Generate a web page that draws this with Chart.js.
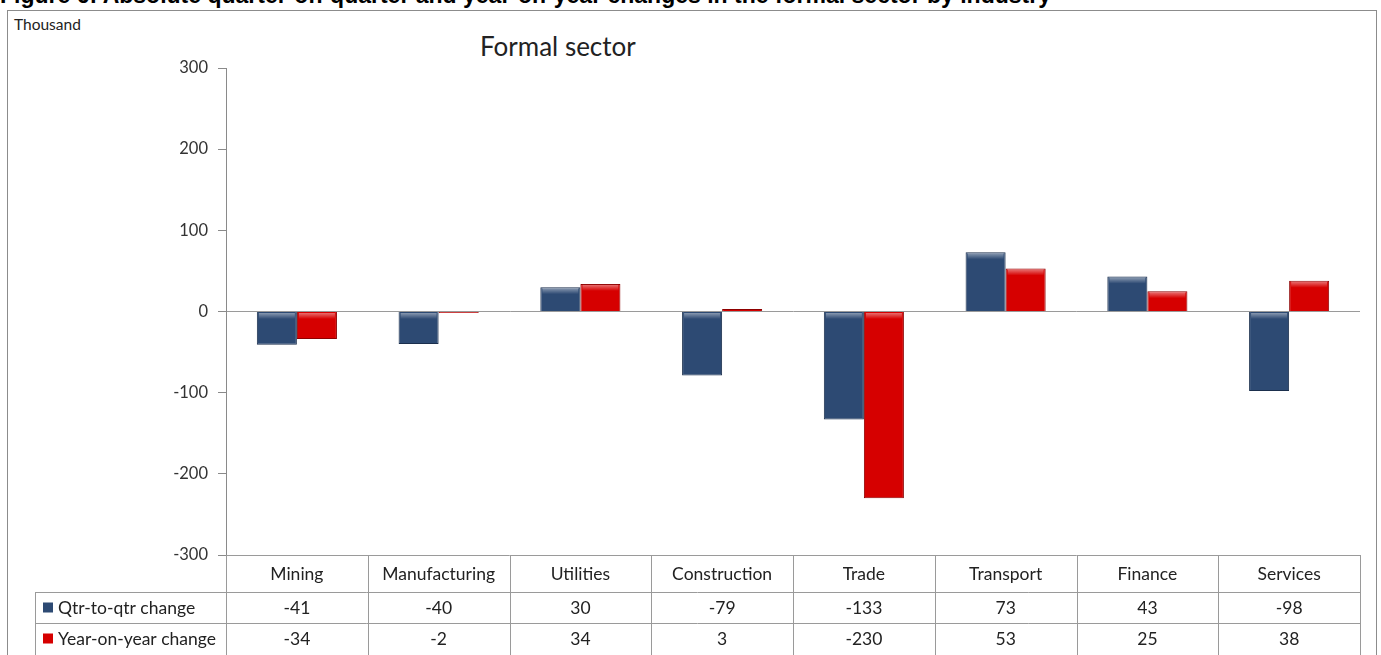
<!DOCTYPE html>
<html>
<head>
<meta charset="utf-8">
<script src="https://cdn.jsdelivr.net/npm/chart.js@4.4.1/dist/chart.umd.min.js"></script>
<style>
  html, body { margin: 0; padding: 0; background: #fff; overflow: hidden; }
  #wrap { position: relative; width: 1381px; height: 655px; }
  #caption { position: absolute; left: 0; top: -18px; font: bold 23px "Liberation Sans", Arial, sans-serif; color: #000; white-space: nowrap; }
  #frame { position: absolute; left: 7px; top: 10px; width: 1370px; height: 660px; border: 1px solid #8c8c8c; box-sizing: border-box; background: #fff; }
  #unit { position: absolute; left: 14px; top: 15px; font: 15.5px Lato, sans-serif; color: #222; }
  #title { position: absolute; left: 480px; top: 30px; font: 26px Lato, sans-serif; color: #222; }
  canvas { position: absolute; left: 0; top: 0; }
</style>
</head>
<body>
<div id="wrap">
  <div id="caption">Figure 6: Absolute quarter-on-quarter and year-on-year changes in the formal sector by industry</div>
  <div id="frame"></div>
  <div id="unit">Thousand</div>
  <div id="title">Formal sector</div>
  <canvas id="grafico" width="1381" height="655"></canvas>
</div>
<script>
const setores = ["Mining", "Manufacturing", "Utilities", "Construction", "Trade", "Transport", "Finance", "Services"]
const qtrChange = [-41, -40, 30, -79, -133, 73, 43, -98]
const yoyChange = [-34, -2, 34, 3, -230, 53, 25, 38]
const serieNomes = ["Qtr-to-qtr change", "Year-on-year change"]
const yTicks = [-300, -200, -100, 0, 100, 200, 300]

const azul = '#2d4a73'
const vermelho = '#d60000'
const fonteTabela = '17.5px Lato, sans-serif'

// light bevel on the top edge of every bar
const bevelPlugin = {
  id: 'bevel',
  afterDatasetsDraw(chart) {
    const ctx = chart.ctx
    chart.data.datasets.forEach(function (ds, i) {
      chart.getDatasetMeta(i).data.forEach(function (bar) {
        const top = Math.min(bar.y, bar.base)
        const h = Math.abs(bar.base - bar.y)
        if (h < 3) return
        const g = ctx.createLinearGradient(0, top, 0, top + 7)
        g.addColorStop(0, 'rgba(255,255,255,0.5)')
        g.addColorStop(1, 'rgba(255,255,255,0)')
        ctx.save()
        ctx.fillStyle = g
        ctx.fillRect(bar.x - bar.width / 2 + 2, top + 1, bar.width - 4, Math.min(7, h - 2))
        ctx.restore()
      })
    })
  }
}

// data table under the plot
const tabelaPlugin = {
  id: 'tabela',
  afterDraw(chart) {
    const ctx = chart.ctx
    const area = chart.chartArea
    const xs = chart.scales.x
    const n = setores.length
    const colW = (area.right - area.left) / n
    const topo = area.bottom
    const linha1 = topo + 37
    const linha2 = linha1 + 31
    const fim = chart.height
    const labelLeft = 35

    ctx.save()
    ctx.strokeStyle = '#9a9a9a'
    ctx.lineWidth = 1
    ctx.beginPath()
    ctx.moveTo(area.left, topo + 0.5); ctx.lineTo(area.right, topo + 0.5)
    ctx.moveTo(labelLeft, linha1 + 0.5); ctx.lineTo(area.right, linha1 + 0.5)
    ctx.moveTo(labelLeft, linha2 + 0.5); ctx.lineTo(area.right, linha2 + 0.5)
    for (let i = 0; i <= n; i++) {
      const x = Math.round(area.left + i * colW) + 0.5
      ctx.moveTo(x, topo); ctx.lineTo(x, fim)
    }
    ctx.moveTo(labelLeft + 0.5, linha1); ctx.lineTo(labelLeft + 0.5, fim)
    ctx.stroke()

    ctx.fillStyle = '#222'
    ctx.font = fonteTabela
    ctx.textAlign = 'center'
    ctx.textBaseline = 'middle'
    setores.forEach(function (s, i) {
      const cx = xs.getPixelForValue(i)
      ctx.fillText(s, cx, (topo + linha1) / 2 + 1)
      ctx.fillText(String(qtrChange[i]), cx, (linha1 + linha2) / 2 + 1)
      ctx.fillText(String(yoyChange[i]), cx, linha2 + 16.5)
    })

    const cores = [azul, vermelho]
    const ys = [(linha1 + linha2) / 2, linha2 + 15.5]
    ctx.textAlign = 'left'
    serieNomes.forEach(function (nome, k) {
      ctx.fillStyle = cores[k]
      ctx.fillRect(43, ys[k] - 5, 10, 10)
      ctx.fillStyle = '#222'
      ctx.fillText(nome, 58, ys[k] + 1)
    })
    ctx.restore()
  }
}

document.addEventListener("DOMContentLoaded", function () {
  const plots = document.getElementById("grafico")
  const grafico = new Chart(plots, {
    type: 'bar',
    data: {
      labels: setores,
      datasets: [{
        label: serieNomes[0],
        data: qtrChange,
        backgroundColor: azul,
        borderColor: '#1b2f4d',
        borderWidth: 1
      }, {
        label: serieNomes[1],
        data: yoyChange,
        backgroundColor: vermelho,
        borderColor: '#8e0000',
        borderWidth: 1
      }]
    },
    options: {
      responsive: false,
      animation: false,
      devicePixelRatio: 1,
      layout: { padding: { top: 68, bottom: 100, left: 8, right: 21 } },
      datasets: { bar: { categoryPercentage: 0.565, barPercentage: 1 } },
      plugins: {
        legend: { display: false },
        title: { display: false },
        tooltip: { enabled: false }
      },
      scales: {
        x: { display: false },
        y: {
          min: -300,
          max: 300,
          afterBuildTicks(scale) { scale.ticks = yTicks.map(v => ({ value: v })) },
          afterFit(scale) { scale.width = 218 },
          border: { display: true, color: '#8a8a8a' },
          grid: {
            drawOnChartArea: true,
            drawTicks: true,
            tickLength: 8,
            tickColor: '#8a8a8a',
            color: ctx => (ctx.tick && ctx.tick.value === 0) ? '#9a9a9a' : 'rgba(0,0,0,0)'
          },
          ticks: {
            padding: 10,
            color: '#333',
            font: { family: 'Lato', size: 16.5 }
          }
        }
      }
    },
    plugins: [bevelPlugin, tabelaPlugin]
  })
})
</script>
</body>
</html>
